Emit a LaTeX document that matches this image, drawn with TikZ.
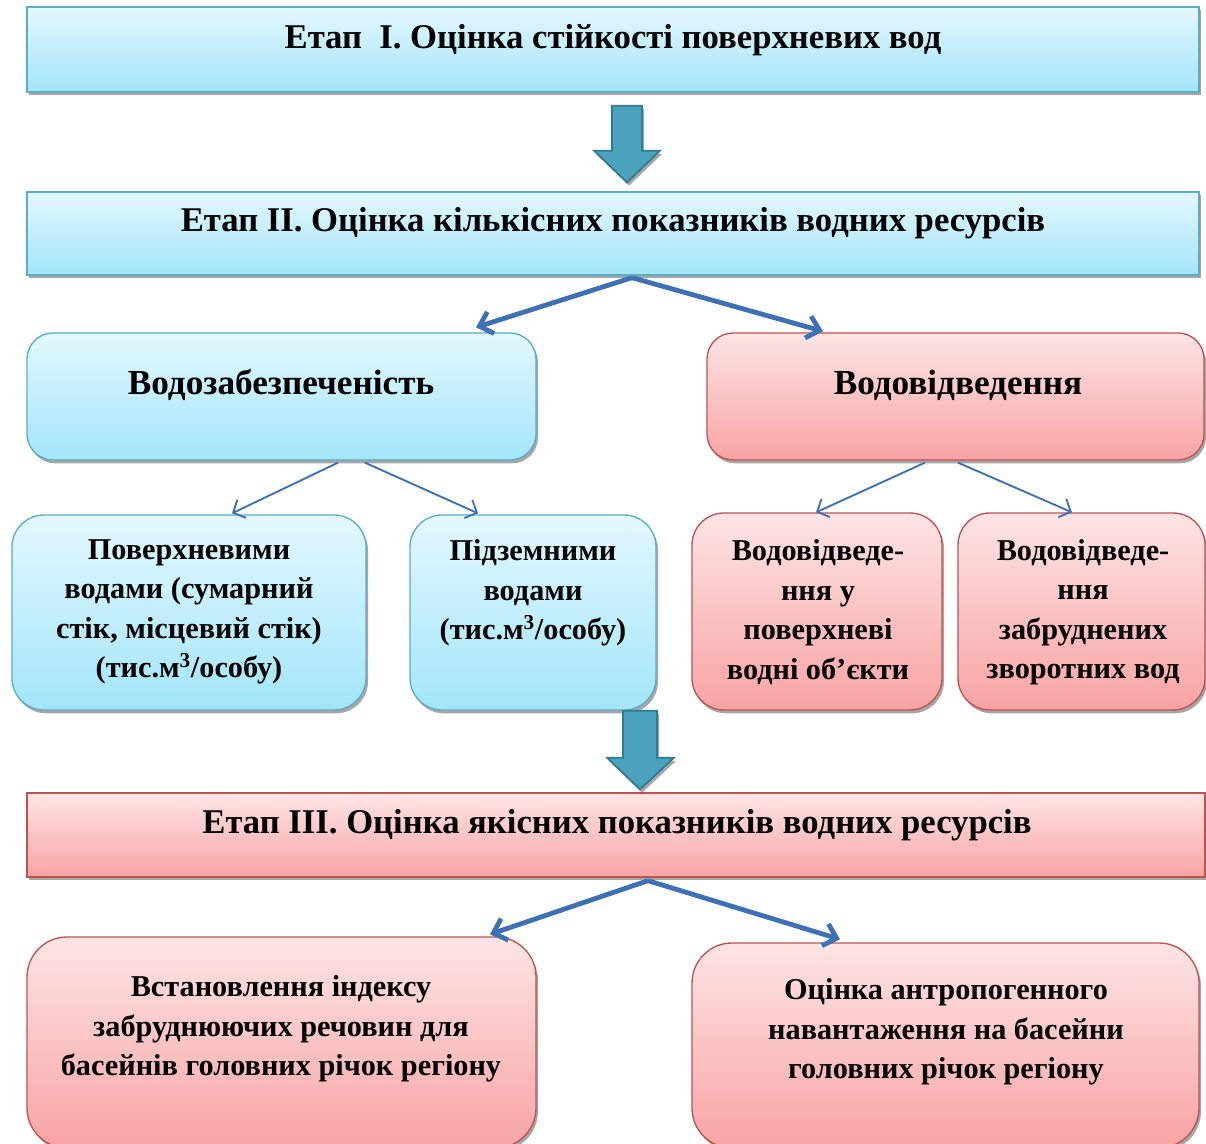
\documentclass[tikz,border=0pt]{standalone}
\usepackage{fontspec}
\setmainfont{Liberation Serif}
\usetikzlibrary{calc,shadows,arrows.meta}
\definecolor{bluetop}{HTML}{E3F8FE}
\definecolor{bluebot}{HTML}{A3E5FA}
\definecolor{blueline}{HTML}{5AADC4}
\definecolor{redtop}{HTML}{FDE5E5}
\definecolor{redbot}{HTML}{F8A3A3}
\definecolor{redline}{HTML}{BF5250}
\definecolor{arrblue}{HTML}{3E70B6}
\definecolor{blockfill}{HTML}{4AA2BC}
\definecolor{blockline}{HTML}{2E7C92}
\tikzset{
  shd/.style={drop shadow={shadow xshift=1.5pt, shadow yshift=-2.5pt, opacity=0.35, fill=black}},
  bluebox/.style={shd, draw=blueline, line width=1pt, top color=bluetop, bottom color=bluebot, inner sep=0pt},
  redbox/.style={shd, draw=redline, line width=1pt, top color=redtop, bottom color=redbot, inner sep=0pt},
  sz/.style 2 args={minimum width=#1*0.75pt, minimum height=#2*0.75pt},
  rc/.style={rounded corners=#1*0.75pt},
  head/.style={font=\fontsize{26}{30}\selectfont\bfseries},
  mid/.style={font=\fontsize{26.4}{30}\selectfont\bfseries},
  small/.style={font=\fontsize{22.7}{29.6}\selectfont\bfseries, align=center},
  bigarr/.style={draw=arrblue, line width=3.6pt, -{Straight Barb[length=9pt, width=17pt, line width=3.6pt]}},
  thinarr/.style={draw=arrblue, line width=1.4pt, -{Straight Barb[length=7pt, width=15pt, line width=1.4pt]}},
  blockarr/.style={fill=blockfill, draw=blockline, line width=1.3pt, line join=miter, shd},
}
\begin{document}
\begin{tikzpicture}[x=0.75pt, y=-0.75pt]
\clip (0,0) rectangle (1206,1144);
\fill[white] (0,0) rectangle (1206,1144);
% Boxes
\node[bluebox, sz={1172}{85}] (s1) at (613,49.5) {};
\node[bluebox, sz={1172}{83}] (s2) at (613,233.5) {};
\node[bluebox, rc=26, sz={509}{127}] (supply) at (281.5,396.5) {};
\node[redbox, rc=26, sz={497}{127}] (disch) at (955.5,396.5) {};
\node[bluebox, rc=32, sz={354}{195}] (surf) at (189,612.5) {};
\node[bluebox, rc=32, sz={246}{195}] (ground) at (533,612.5) {};
\node[redbox, rc=32, sz={250}{197}] (d1) at (817,611.5) {};
\node[redbox, rc=32, sz={247}{197}] (d2) at (1081.5,611.5) {};
\node[redbox, sz={1178}{84}] (s3) at (616,835) {};
\node[redbox, rc=40, sz={509}{211}] (b1) at (281.5,1042.5) {};
\node[redbox, rc=40, sz={507}{205}] (b2) at (945.5,1045.5) {};
% Texts
\node[head] (t1) at (613,40) {Етап\ \ І. Оцінка стійкості поверхневих вод};
\node[head] (t2) at (613,223) {Етап ІІ. Оцінка кількісних показників водних ресурсів};
\node[mid] (tsupply) at (281,385) {Водозабезпеченість};
\node[mid] (tdisch) at (958,385) {Водовідведення};
\node[small] (tsurf) at (189,612) {Поверхневими\\водами (сумарний\\стік, місцевий стік)\\(тис.м\textsuperscript{3}/особу)};
\node[small] (tground) at (533,593) {Підземними\\водами\\(тис.м\textsuperscript{3}/особу)};
\node[small] (td1) at (818,612) {Водовідведе-\\ння у\\поверхневі\\водні об’єкти};
\node[small] (td2) at (1083,612) {Водовідведе-\\ння\\забруднених\\зворотних вод};
\node[head] (t3) at (617,825) {Етап ІІІ. Оцінка якісних показників водних ресурсів};
\node[small] (tb1) at (281,1029) {Встановлення індексу\\забруднюючих речовин для\\басейнів головних річок регіону};
\node[small] (tb2) at (946,1032) {Оцінка антропогенного\\навантаження на басейни\\головних річок регіону};
% Block arrows
\draw[blockarr] ($(s1.south)+(-1,13)$) -- ++(0,45) -- ++(-18,0) -- ($(s2.north)+(14,-9)$) -- ($(s1.south)+(47,58)$) -- ++(-18,0) -- ++(0,-45) -- cycle;
\draw[blockarr] ($(ground.south)+(90,-0)$) -- ++(0,47) -- ++(-16,0) -- ($(s3.north)+(24,-3)$) -- ($(ground.south)+(141,47)$) -- ++(-17,0) -- ++(0,-47) -- cycle;
% Connectors
\draw[bigarr] ($(s2.south)+(19,2)$) -- ($(supply.north)+(194.5,-5)$);
\draw[bigarr] ($(s2.south)+(19,2)$) -- ($(disch.north)+(-132.5,-1)$);
\draw[thinarr] ($(supply.south)+(56.5,2)$) -- ($(surf.north)+(43,-1)$);
\draw[thinarr] ($(supply.south)+(83.5,2)$) -- ($(ground.north)+(-55,-1)$);
\draw[thinarr] ($(disch.south)+(-30.5,2)$) -- ($(d1.north)+(-1,0)$);
\draw[thinarr] ($(disch.south)+(2.5,2)$) -- ($(d2.north)+(-9.5,0)$);
\draw[bigarr] ($(s3.south)+(32,3)$) -- ($(b1.north)+(208.5,-2)$);
\draw[bigarr] ($(s3.south)+(32,3)$) -- ($(b2.north)+(-105.5,-3)$);
\end{tikzpicture}
\end{document}
